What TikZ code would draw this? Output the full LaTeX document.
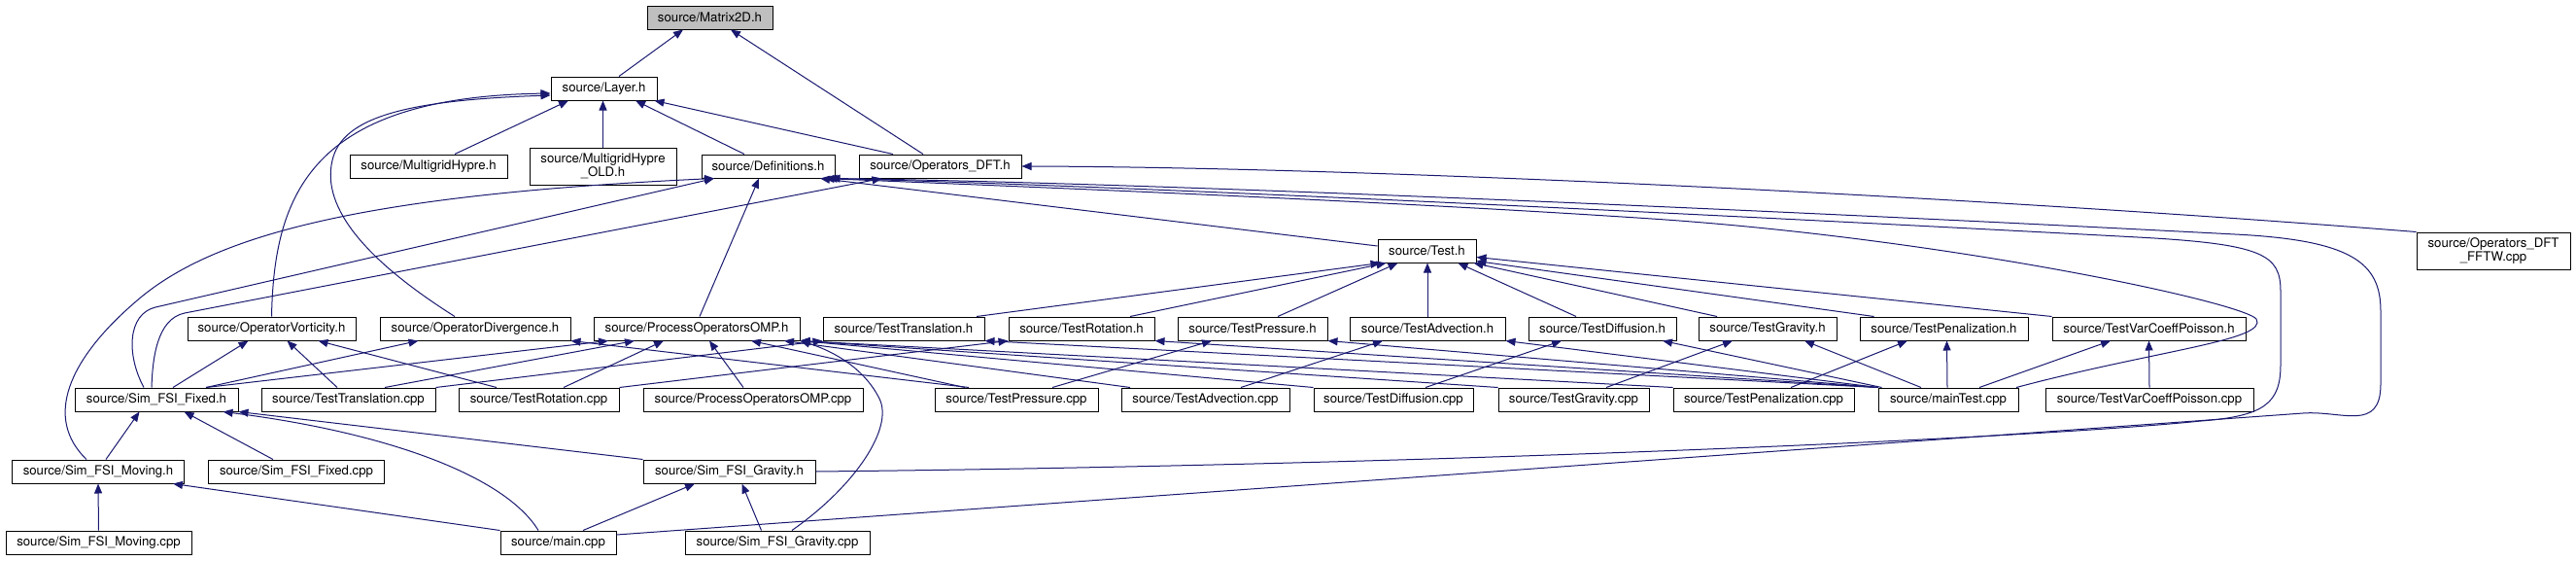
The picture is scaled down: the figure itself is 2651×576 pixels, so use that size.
\documentclass[tikz,border=0pt]{standalone}
\usepackage{fontspec}
\setmainfont{TeX Gyre Heros}
\usetikzlibrary{arrows.meta,calc}
\definecolor{edgecol}{HTML}{191970}
\definecolor{rootgray}{HTML}{BFBFBF}
\begin{document}
\begin{tikzpicture}[x=1pt,y=-1pt,
  box/.style={draw=black,line width=1pt,fill=white,minimum height=24pt,inner sep=0pt,
    font=\fontsize{13.2}{14}\selectfont,align=center},
  edge/.style={draw=edgecol,line width=1pt,-{Triangle[length=10pt,width=8pt]}},
]
\fill[white] (0,0) rectangle (2651,576);
\useasboundingbox (0,0) rectangle (2651,576);

% nodes
\node[box,minimum width=129pt,fill=rootgray] (m2d) at (730.5,18) {source/Matrix2D.h};
\node[box,minimum width=109pt] (layer) at (621.5,91) {source/Layer.h};
\node[box,minimum width=162pt] (mgh) at (441,171) {source/MultigridHypre.h};
\node[box,minimum width=151pt,minimum height=38pt] (mgho) at (620.5,171) {source/MultigridHypre\\\_OLD.h};
\node[box,minimum width=137pt] (defs) at (790.5,171) {source/Definitions.h};
\node[box,minimum width=167pt] (odft) at (967.5,171) {source/Operators\_DFT.h};
\node[box,minimum width=158pt,minimum height=38pt] (fftw) at (2566,258) {source/Operators\_DFT\\\_FFTW.cpp};
\node[box,minimum width=101pt] (test) at (1468.5,258) {source/Test.h};

\node[box,minimum width=173pt] (ovort) at (279.5,338) {source/OperatorVorticity.h};
\node[box,minimum width=196pt] (odiv) at (489,338) {source/OperatorDivergence.h};
\node[box,minimum width=212pt] (pomph) at (717,338) {source/ProcessOperatorsOMP.h};
\node[box,minimum width=166pt] (ttrh) at (930,338) {source/TestTranslation.h};
\node[box,minimum width=150pt] (troth) at (1113,338) {source/TestRotation.h};
\node[box,minimum width=154pt] (tpresh) at (1289,338) {source/TestPressure.h};
\node[box,minimum width=160pt] (tadvh) at (1469,338) {source/TestAdvection.h};
\node[box,minimum width=152pt] (tdiffh) at (1649,338) {source/TestDiffusion.h};
\node[box,minimum width=142pt] (tgravh) at (1819,338) {source/TestGravity.h};
\node[box,minimum width=173pt] (tpenh) at (2000.5,338) {source/TestPenalization.h};
\node[box,minimum width=199pt] (tvcph) at (2211.5,338) {source/TestVarCoeffPoisson.h};

\node[box,minimum width=168pt] (sffh) at (161,411) {source/Sim\_FSI\_Fixed.h};
\node[box,minimum width=179pt] (ttrc) at (358.5,411) {source/TestTranslation.cpp};
\node[box,minimum width=165pt] (trotc) at (554.5,411) {source/TestRotation.cpp};
\node[box,minimum width=226pt] (pompc) at (775,411) {source/ProcessOperatorsOMP.cpp};
\node[box,minimum width=168pt] (tpresc) at (1046,411) {source/TestPressure.cpp};
\node[box,minimum width=173pt] (tadvc) at (1240.5,411) {source/TestAdvection.cpp};
\node[box,minimum width=164pt] (tdiffc) at (1434,411) {source/TestDiffusion.cpp};
\node[box,minimum width=155pt] (tgravc) at (1619.5,411) {source/TestGravity.cpp};
\node[box,minimum width=186pt] (tpenc) at (1815,411) {source/TestPenalization.cpp};
\node[box,minimum width=144pt] (maintest) at (2005,411) {source/mainTest.cpp};
\node[box,minimum width=214pt] (tvcpc) at (2212,411) {source/TestVarCoeffPoisson.cpp};

\node[box,minimum width=177pt] (sfmh) at (101,485) {source/Sim\_FSI\_Moving.h};
\node[box,minimum width=181pt] (sffc) at (305,485) {source/Sim\_FSI\_Fixed.cpp};
\node[box,minimum width=177pt] (sfgh) at (750.5,485) {source/Sim\_FSI\_Gravity.h};

\node[box,minimum width=191pt] (sfmc) at (101.5,558) {source/Sim\_FSI\_Moving.cpp};
\node[box,minimum width=119pt] (mainc) at (574.5,558) {source/main.cpp};
\node[box,minimum width=190pt] (sfgc) at (800,558) {source/Sim\_FSI\_Gravity.cpp};

% Matrix2D
\draw[edge] ([xshift=15.5pt]layer.north) -- ([xshift=-27.5pt]m2d.south);
\draw[edge] ([xshift=-17.5pt]odft.north) -- ([xshift=21.5pt]m2d.south);
% Layer
\draw[edge] ([xshift=27pt]mgh.north) -- ([xshift=-36.5pt]layer.south);
\draw[edge] (mgho.north) -- ([xshift=-1pt]layer.south);
\draw[edge] ([xshift=-24.5pt]defs.north) -- ([xshift=32.5pt]layer.south);
\draw[edge] ([xshift=-48.5pt]odft.north) -- ([xshift=52pt]layer.south);
\draw[edge] (ovort.north) .. controls (282,200) and (320,100) .. ([yshift=-5pt]layer.west);
\draw[edge] ([xshift=-21pt]odiv.north) .. controls (380,270) and (330,215) .. (342,165)
  .. controls (352,120) and (420,103) .. ([yshift=-7pt]layer.west);
% Definitions
\draw[edge] ([xshift=3pt]pomph.north) -- ([xshift=-9.5pt]defs.south);
\draw[edge] ([yshift=5pt]test.west) -- ([xshift=53.5pt]defs.south);
\draw[edge] ([xshift=-13pt]sffh.north) .. controls (130,365) and (131,323) .. (160,316) -- ([xshift=-55.5pt]defs.south);
\draw[edge] ([xshift=-12pt]sfmh.north) .. controls (45,430) and (70,370) .. (140,310)
  .. controls (220,240) and (380,200) .. ([xshift=-55.5pt]defs.south);
\draw[edge] ([xshift=70pt]maintest.north) .. controls (2220,360) and (2335,350) .. (2322,328)
  .. controls (2305,310) and (2000,245) .. (1700,225) .. controls (1400,205) and (1000,190) .. ([xshift=58pt]defs.south);
\draw[edge] ([yshift=8pt]mainc.east) -- (2370,425) .. controls (2410,422) and (2450,445) .. (2450,395)
  -- (2450,320) .. controls (2450,270) and (2420,247) .. (2300,241)
  .. controls (1900,220) and (1200,188) .. ([xshift=64pt]defs.south);
\draw[edge] (sfgh.east) .. controls (1500,478) and (2100,450) .. (2265,433)
  .. controls (2330,428) and (2347,415) .. (2347,375) -- (2347,300)
  .. controls (2347,262) and (2330,251) .. (2200,244)
  .. controls (1900,228) and (1200,192) .. ([xshift=61pt]defs.south);
% Operators_DFT
\draw[edge] ([xshift=-5pt]sffh.north) .. controls (157,370) and (161,328) .. (190,322) -- ([xshift=-60pt]odft.south);
\draw[edge] (fftw.north west) .. controls (2000,200) and (1400,172) .. (odft.east);
% Test.h
\draw[edge] ([xshift=75pt]ttrh.north) -- ([xshift=-48pt]test.south);
\draw[edge] ([xshift=50pt]troth.north) -- ([xshift=-42pt]test.south);
\draw[edge] ([xshift=26pt]tpresh.north) -- ([xshift=-30pt]test.south);
\draw[edge] (tadvh.north) -- ([xshift=0.5pt]test.south);
\draw[edge] ([xshift=-27pt]tdiffh.north) -- ([xshift=32pt]test.south);
\draw[edge] ([xshift=-52pt]tgravh.north) -- ([xshift=-3pt]test.south east);
\draw[edge] ([xshift=-72pt]tpenh.north) -- ([yshift=2pt]test.south east);
\draw[edge] (tvcph.north west) -- ([yshift=6pt]test.south east);
% OperatorVorticity
\draw[edge] ([xshift=17pt]sffh.north) -- ([xshift=-24pt]ovort.south);
\draw[edge] ([xshift=-11.5pt]ttrc.north) -- ([xshift=16pt]ovort.south);
\draw[edge] ([xshift=-43.5pt]trotc.north) -- ([xshift=48pt]ovort.south);
% OperatorDivergence
\draw[edge] ([xshift=51pt]sffh.north) -- ([xshift=-58.5pt]odiv.south);
\draw[edge] ([xshift=-49pt]tpresc.north) -- (odiv.south east);
% ProcessOperatorsOMP.h
\draw[edge] ([xshift=51pt]sffh.north) -- ([xshift=-91pt]pomph.south);
\draw[edge] ([xshift=37.5pt]ttrc.north) -- ([xshift=-64pt]pomph.south);
\draw[edge] ([xshift=25.5pt]trotc.north) -- ([xshift=-34pt]pomph.south);
\draw[edge] ([xshift=-10pt]pompc.north) -- ([xshift=13pt]pomph.south);
\draw[edge] ([xshift=-53pt]tpresc.north) -- ([xshift=56pt]pomph.south);
\draw[edge] ([xshift=-77.5pt]tadvc.north) -- ([xshift=90pt]pomph.south);
\draw[edge] (tdiffc.north west) -- (pomph.south east);
\draw[edge] (tgravc.north west) -- (pomph.south east);
\draw[edge] (tpenc.north west) -- (pomph.south east);
\draw[edge] ([xshift=15pt]sfgc.north) .. controls (880,500) and (920,440) .. (905,410)
  .. controls (890,380) and (860,362) .. (pomph.south east);
% TestTranslation.h / TestRotation.h
\draw[edge] (ttrc.north east) -- (ttrh.south west);
\draw[edge] (trotc.north east) -- (troth.south west);
% mainTest.cpp
\draw[edge] (maintest.north west) -- (ttrh.south east);
\draw[edge] (maintest.north west) -- (troth.south east);
\draw[edge] (maintest.north west) -- (tpresh.south east);
\draw[edge] (maintest.north west) -- (tadvh.south east);
\draw[edge] ([xshift=4pt]maintest.north west) -- ([xshift=62pt]tdiffh.south);
\draw[edge] ([xshift=-28pt]maintest.north) -- ([xshift=38pt]tgravh.south);
\draw[edge] ([xshift=-1pt]maintest.north) -- ([xshift=3pt]tpenh.south);
\draw[edge] ([xshift=32pt]maintest.north) -- ([xshift=-39.5pt]tvcph.south);
\draw[edge] (tvcpc.north) -- (tvcph.south);
% test cpp -> test h
\draw[edge] ([xshift=37pt]tpresc.north) -- ([xshift=-42pt]tpresh.south);
\draw[edge] ([xshift=36.5pt]tadvc.north) -- ([xshift=-46pt]tadvh.south);
\draw[edge] ([xshift=33pt]tdiffc.north) -- ([xshift=-42pt]tdiffh.south);
\draw[edge] ([xshift=33.5pt]tgravc.north) -- ([xshift=-36pt]tgravh.south);
\draw[edge] ([xshift=28pt]tpenc.north) -- ([xshift=-37.5pt]tpenh.south);
% Sim_FSI
\draw[edge] ([xshift=8pt]sfmh.north) -- ([xshift=-17.5pt]sffh.south);
\draw[edge] ([xshift=-24pt]sffc.north) -- ([xshift=28.5pt]sffh.south);
\draw[edge] ([xshift=-20.5pt]mainc.north) .. controls (520,490) and (400,445) .. ([xshift=68.5pt]sffh.south);
\draw[edge] (sfgh.north west) -- (sffh.south east);
\draw[edge] (sfmc.north) -- (sfmh.south);
\draw[edge] (mainc.north west) -- ([xshift=77pt]sfmh.south);
\draw[edge] ([xshift=25.5pt]mainc.north) -- ([xshift=-35.5pt]sfgh.south);
\draw[edge] ([xshift=-16.5pt]sfgc.north) -- ([xshift=13pt]sfgh.south);
\end{tikzpicture}
\end{document}
